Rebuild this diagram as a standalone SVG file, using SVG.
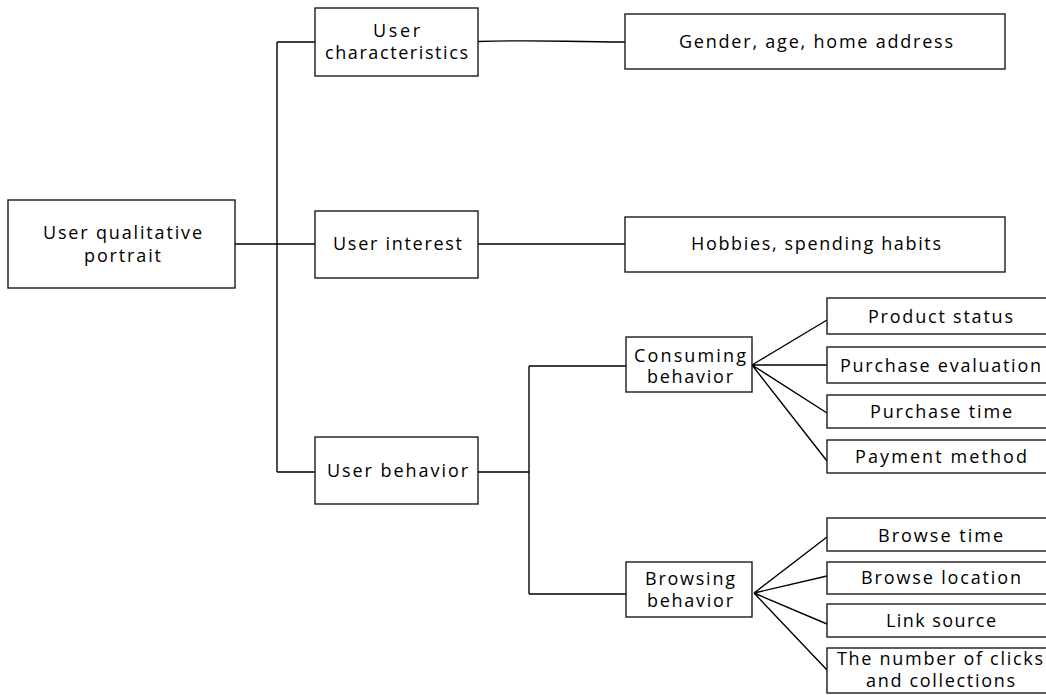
<svg xmlns="http://www.w3.org/2000/svg" width="1046" height="695" viewBox="0 0 1046 695">
<style>
.box{fill:#fff;stroke:#1a1a1a;stroke-width:1.4}
.ln{fill:none;stroke:#000;stroke-width:1.4}
text{font-family:"Open Sans","Noto Sans","Liberation Sans",sans-serif;font-size:18px;fill:#000}
</style>
<rect width="1046" height="695" fill="#fff"/>
<g id="connectors">
<path class="ln" d="M235,244 H315"/>
<path class="ln" d="M277,42 V472"/>
<path class="ln" d="M277,42 H315"/>
<path class="ln" d="M277,472 H315"/>
<path class="ln" d="M478,41.5 C545,39.5 560,42 625,42"/>
<path class="ln" d="M478,244 H625"/>
<path class="ln" d="M478,472 H529"/>
<path class="ln" d="M529,366 V594"/>
<path class="ln" d="M529,366 H626"/>
<path class="ln" d="M529,594 H626"/>
<path class="ln" d="M752,365 L827,320 M752,365 L827,365 M752,365 L827,413 M752,365 L827,461"/>
<path class="ln" d="M754,593 L827,537 M754,593 L827,576 M754,593 L827,624 M754,593 L827,670"/>
</g>
<g id="root"><rect class="box" x="8" y="200" width="227" height="88"/>
<text x="43" y="239" textLength="159">User qualitative</text>
<text x="84" y="262" textLength="77">portrait</text></g>
<g id="user-characteristics"><rect class="box" x="315" y="8" width="163" height="68"/>
<text x="373" y="37" textLength="47">User</text>
<text x="325" y="59" textLength="143">characteristics</text></g>
<g id="user-interest"><rect class="box" x="315" y="211" width="163" height="67"/>
<text x="333" y="250" textLength="129">User interest</text></g>
<g id="user-behavior"><rect class="box" x="315" y="437" width="163" height="67"/>
<text x="327" y="477" textLength="141">User behavior</text></g>
<g id="gender"><rect class="box" x="625" y="14" width="380" height="55"/>
<text x="679" y="48" textLength="274">Gender, age, home address</text></g>
<g id="hobbies"><rect class="box" x="625" y="217" width="380" height="55"/>
<text x="691" y="250" textLength="250">Hobbies, spending habits</text></g>
<g id="consuming"><rect class="box" x="626" y="337" width="126" height="55"/>
<text x="634" y="362" textLength="112">Consuming</text>
<text x="647" y="383" textLength="86">behavior</text></g>
<g id="browsing"><rect class="box" x="626" y="562" width="126" height="55"/>
<text x="645" y="585" textLength="90">Browsing</text>
<text x="647" y="607" textLength="86">behavior</text></g>
<g id="product-status"><rect class="box" x="827" y="298" width="226" height="36"/>
<text x="868" y="323" textLength="145">Product status</text></g>
<g id="purchase-evaluation"><rect class="box" x="827" y="347" width="226" height="36"/>
<text x="840" y="372" textLength="201">Purchase evaluation</text></g>
<g id="purchase-time"><rect class="box" x="827" y="395" width="226" height="33"/>
<text x="870" y="418" textLength="142">Purchase time</text></g>
<g id="payment-method"><rect class="box" x="827" y="440" width="226" height="33"/>
<text x="855" y="463" textLength="172">Payment method</text></g>
<g id="browse-time"><rect class="box" x="827" y="518" width="226" height="33"/>
<text x="878" y="542" textLength="125">Browse time</text></g>
<g id="browse-location"><rect class="box" x="827" y="562" width="226" height="32"/>
<text x="861" y="584" textLength="160">Browse location</text></g>
<g id="link-source"><rect class="box" x="827" y="604" width="226" height="33"/>
<text x="886" y="627" textLength="110">Link source</text></g>
<g id="clicks"><rect class="box" x="827" y="648" width="226" height="45"/>
<text x="837" y="665" textLength="206">The number of clicks</text>
<text x="866" y="687" textLength="149">and collections</text></g>
</svg>
